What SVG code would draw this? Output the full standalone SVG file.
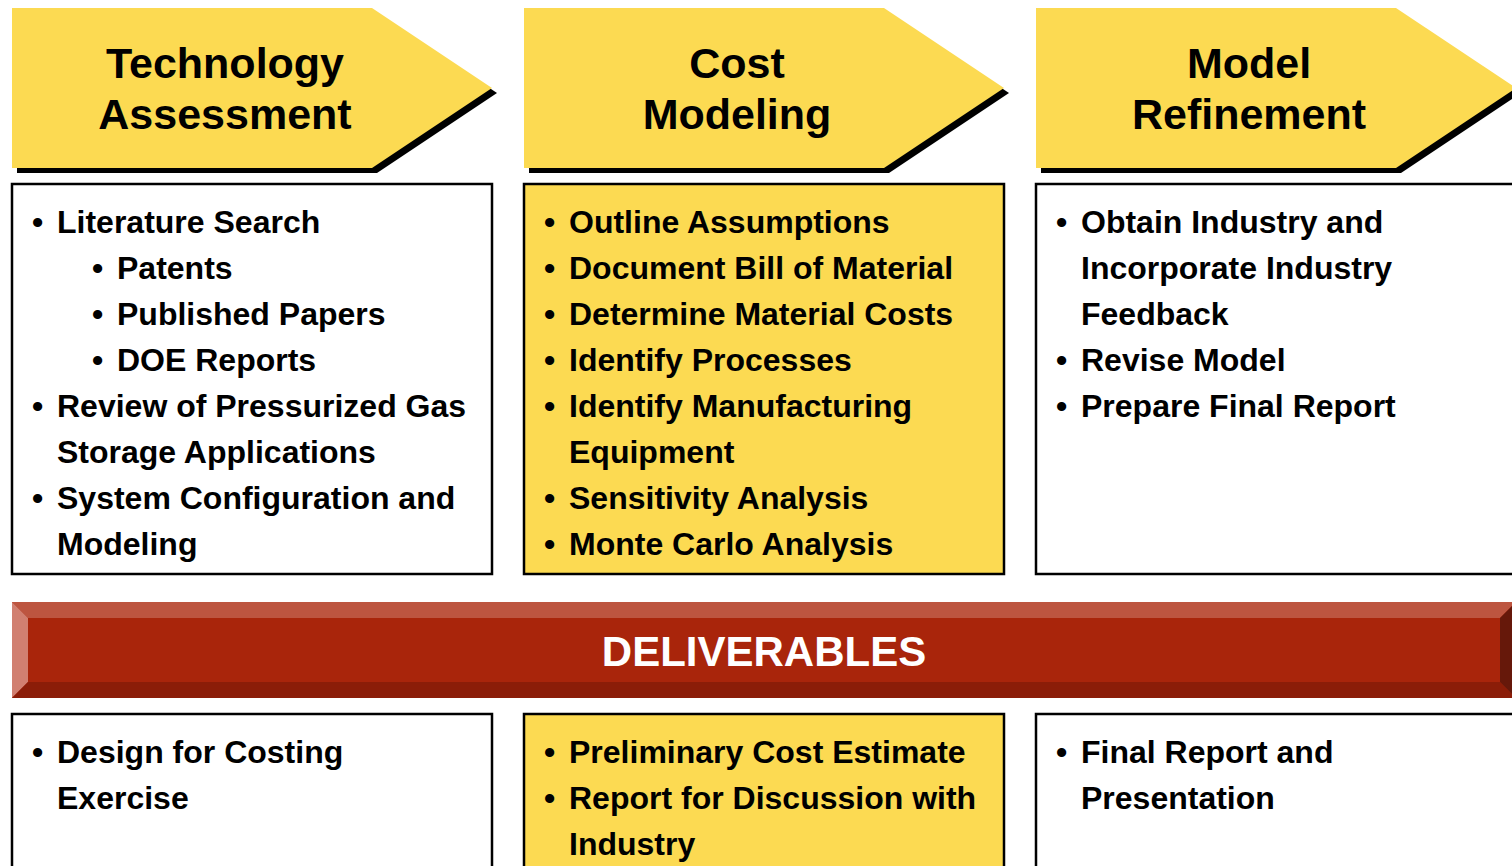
<svg xmlns="http://www.w3.org/2000/svg" width="1512" height="866" viewBox="0 0 1512 866">
<defs>
<style>
.shadow{fill:#000}
.chev{fill:#FCDA52}
.title{font-family:"Liberation Sans",Arial,sans-serif;font-weight:bold;font-size:43px;fill:#000;text-anchor:middle}
.box{stroke:#000;stroke-width:2.5}
.white{fill:#fff}
.yellow{fill:#FCDA52}
.t{font-family:"Liberation Sans",Arial,sans-serif;font-weight:bold;font-size:32px;fill:#000}
.deliv{font-family:"Liberation Sans",Arial,sans-serif;font-weight:bold;font-size:42px;fill:#fff;text-anchor:middle}
</style>
</defs>
<rect width="1512" height="866" fill="#fff"/>

<g id="chevron-technology">
<polygon class="shadow" points="17,13 377,13 497,93 377,173 17,173"/>
<polygon class="chev" points="12,8 372,8 492,88 372,168 12,168"/>
<text class="title" x="225" y="78">Technology</text>
<text class="title" x="225" y="129">Assessment</text>
</g>
<g id="chevron-cost">
<polygon class="shadow" points="529,13 889,13 1009,93 889,173 529,173"/>
<polygon class="chev" points="524,8 884,8 1004,88 884,168 524,168"/>
<text class="title" x="737" y="78">Cost</text>
<text class="title" x="737" y="129">Modeling</text>
</g>
<g id="chevron-model">
<polygon class="shadow" points="1041,13 1401,13 1521,93 1401,173 1041,173"/>
<polygon class="chev" points="1036,8 1396,8 1516,88 1396,168 1036,168"/>
<text class="title" x="1249" y="78">Model</text>
<text class="title" x="1249" y="129">Refinement</text>
</g>

<g id="box-technology">
<rect class="box white" x="12" y="184" width="480" height="390"/>
<text class="t" x="32" y="233">•</text><text class="t" x="57" y="233">Literature Search</text>
<text class="t" x="92" y="279">•</text><text class="t" x="117" y="279">Patents</text>
<text class="t" x="92" y="325">•</text><text class="t" x="117" y="325">Published Papers</text>
<text class="t" x="92" y="371">•</text><text class="t" x="117" y="371">DOE Reports</text>
<text class="t" x="32" y="417">•</text><text class="t" x="57" y="417">Review of Pressurized Gas</text>
<text class="t" x="57" y="463">Storage Applications</text>
<text class="t" x="32" y="509">•</text><text class="t" x="57" y="509">System Configuration and</text>
<text class="t" x="57" y="555">Modeling</text>
</g>
<g id="box-cost">
<rect class="box yellow" x="524" y="184" width="480" height="390"/>
<text class="t" x="544" y="233">•</text><text class="t" x="569" y="233">Outline Assumptions</text>
<text class="t" x="544" y="279">•</text><text class="t" x="569" y="279">Document Bill of Material</text>
<text class="t" x="544" y="325">•</text><text class="t" x="569" y="325">Determine Material Costs</text>
<text class="t" x="544" y="371">•</text><text class="t" x="569" y="371">Identify Processes</text>
<text class="t" x="544" y="417">•</text><text class="t" x="569" y="417">Identify Manufacturing</text>
<text class="t" x="569" y="463">Equipment</text>
<text class="t" x="544" y="509">•</text><text class="t" x="569" y="509">Sensitivity Analysis</text>
<text class="t" x="544" y="555">•</text><text class="t" x="569" y="555">Monte Carlo Analysis</text>
</g>
<g id="box-model">
<rect class="box white" x="1036" y="184" width="490" height="390"/>
<text class="t" x="1056" y="233">•</text><text class="t" x="1081" y="233">Obtain Industry and</text>
<text class="t" x="1081" y="279">Incorporate Industry</text>
<text class="t" x="1081" y="325">Feedback</text>
<text class="t" x="1056" y="371">•</text><text class="t" x="1081" y="371">Revise Model</text>
<text class="t" x="1056" y="417">•</text><text class="t" x="1081" y="417">Prepare Final Report</text>
</g>

<g id="banner-deliverables">
<rect x="12" y="602" width="1504" height="96" fill="#A9250B"/>
<polygon points="12,602 1516,602 1500,618 28,618" fill="#BD5540"/>
<polygon points="12,602 28,618 28,682 12,698" fill="#D17F70"/>
<polygon points="12,698 28,682 1500,682 1516,698" fill="#8B1D08"/>
<polygon points="1516,602 1500,618 1500,682 1516,698" fill="#66180A"/>
<text class="deliv" x="764" y="666">DELIVERABLES</text>
</g>

<g id="deliv-technology">
<rect class="box white" x="12" y="714" width="480" height="170"/>
<text class="t" x="32" y="763">•</text><text class="t" x="57" y="763">Design for Costing</text>
<text class="t" x="57" y="809">Exercise</text>
</g>
<g id="deliv-cost">
<rect class="box yellow" x="524" y="714" width="480" height="170"/>
<text class="t" x="544" y="763">•</text><text class="t" x="569" y="763">Preliminary Cost Estimate</text>
<text class="t" x="544" y="809">•</text><text class="t" x="569" y="809">Report for Discussion with</text>
<text class="t" x="569" y="855">Industry</text>
</g>
<g id="deliv-model">
<rect class="box white" x="1036" y="714" width="490" height="170"/>
<text class="t" x="1056" y="763">•</text><text class="t" x="1081" y="763">Final Report and</text>
<text class="t" x="1081" y="809">Presentation</text>
</g>
<g id="connectors"></g>
</svg>
